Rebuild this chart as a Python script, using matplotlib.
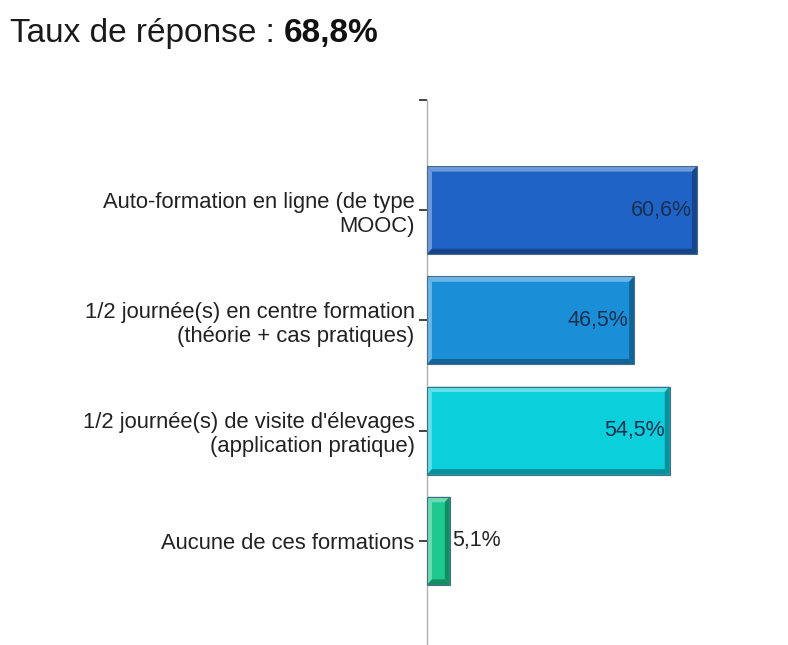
import numpy as np
import matplotlib.pyplot as plt
from matplotlib.patches import Polygon
from matplotlib.colors import to_rgb

plt.rcParams.update({"font.family": ["Liberation Sans", "DejaVu Sans"]})

categories = [
    "Auto-formation en ligne (de type\nMOOC)",
    "1/2 journée(s) en centre formation\n(théorie + cas pratiques)",
    "1/2 journée(s) de visite d'élevages\n(application pratique)",
    "Aucune de ces formations",
]
values = [60.6, 46.5, 54.5, 5.1]
value_labels = ["60,6%", "46,5%", "54,5%", "5,1%"]
bar_colors = ["#1f63c6", "#1a8fd8", "#0ccfdc", "#1ec98f"]
title_plain = "Taux de réponse : "
title_bold = "68,8%"


def shade(color, f):
    r, g, b = to_rgb(color)
    if f > 0:
        return (r + (1 - r) * f, g + (1 - g) * f, b + (1 - b) * f)
    return (r * (1 + f), g * (1 + f), b * (1 + f))


def bevel_bar(ax, y, w, h, color, bx, by):
    y0, y1 = y - h / 2, y + h / 2
    # main face
    ax.add_patch(Polygon([(0, y0), (w, y0), (w, y1), (0, y1)], closed=True,
                         facecolor=color, edgecolor="none", zorder=2))
    light = shade(color, 0.35)
    dark = shade(color, -0.3)
    # top and left bands (light), bottom and right bands (dark); y axis inverted
    ax.add_patch(Polygon([(0, y0), (w, y0), (w - bx, y0 + by), (bx, y0 + by)],
                         facecolor=light, edgecolor="none", zorder=3))
    ax.add_patch(Polygon([(0, y0), (bx, y0 + by), (bx, y1 - by), (0, y1)],
                         facecolor=light, edgecolor="none", zorder=3))
    ax.add_patch(Polygon([(0, y1), (bx, y1 - by), (w - bx, y1 - by), (w, y1)],
                         facecolor=dark, edgecolor="none", zorder=3))
    ax.add_patch(Polygon([(w, y0), (w, y1), (w - bx, y1 - by), (w - bx, y0 + by)],
                         facecolor=dark, edgecolor="none", zorder=3))
    ax.add_patch(Polygon([(0, y0), (w, y0), (w, y1), (0, y1)], closed=True,
                         facecolor="none", edgecolor="#4a6a86", lw=0.8, zorder=4))


fig = plt.figure(figsize=(7.88, 6.45), dpi=100)
ax = fig.add_axes([0.5419, -0.0093, 0.452, 0.8543])

ypos = np.arange(len(categories))
bar_h = 0.8
for y, v, c in zip(ypos, values, bar_colors):
    bevel_bar(ax, y, v, bar_h, c, bx=1.1, by=0.05)

for y, v, lab in zip(ypos, values, value_labels):
    if v > 15:
        ax.text(v - 1.2, y, lab, ha="right", va="center", fontsize=15.5,
                color="#1b2f4f", zorder=5)
    else:
        ax.text(v + 0.5, y, lab, ha="left", va="center", fontsize=15.5,
                color="#222222", zorder=5)

ax.set_xlim(0, 80)
ax.set_ylim(4.0, -1.0)
ax.set_yticks(list(ypos) + [-1.0])
ax.set_yticklabels(categories + [""], fontsize=15.8, color="#222222")
ax.tick_params(axis="y", length=6, width=1.2, color="#222222", pad=3)
ax.set_xticks([])
for side in ["top", "right", "bottom"]:
    ax.spines[side].set_visible(False)
ax.spines["left"].set_color("#b0b0b0")
ax.spines["left"].set_linewidth(1.0)

t1 = fig.text(0.013, 0.935, title_plain, fontsize=24, color="#1a1a1a",
              ha="left", va="baseline")
ax.annotate(title_bold, xy=(1, 0), xycoords=t1, fontsize=24, fontweight="bold",
            color="#111111", ha="left", va="bottom", annotation_clip=False)

fig.savefig("out.png", dpi=100)
